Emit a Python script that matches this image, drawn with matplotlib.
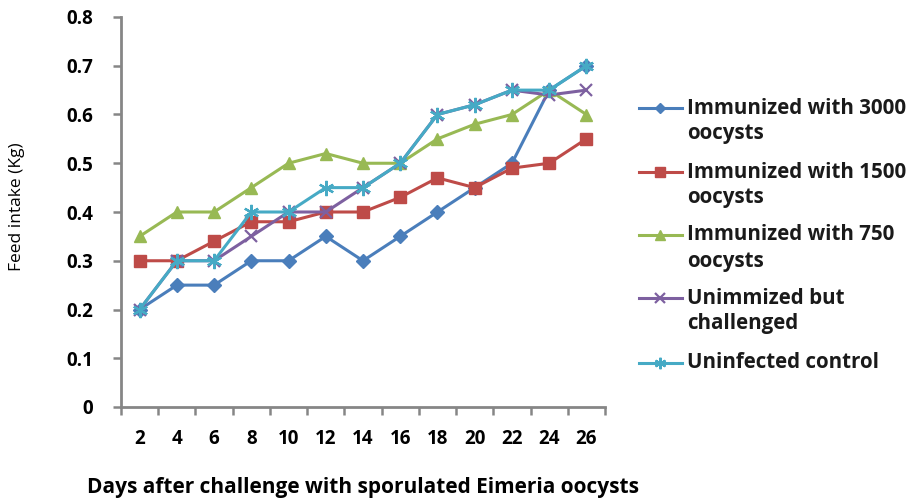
import matplotlib
matplotlib.use("Agg")
import matplotlib.pyplot as plt
import numpy as np

days = ["2", "4", "6", "8", "10", "12", "14", "16", "18", "20", "22", "24", "26"]
imm_3000 = [0.20, 0.25, 0.25, 0.30, 0.30, 0.35, 0.30, 0.35, 0.40, 0.45, 0.50, 0.65, 0.70]
imm_1500 = [0.30, 0.30, 0.34, 0.38, 0.38, 0.40, 0.40, 0.43, 0.47, 0.45, 0.49, 0.50, 0.55]
imm_750 = [0.35, 0.40, 0.40, 0.45, 0.50, 0.52, 0.50, 0.50, 0.55, 0.58, 0.60, 0.65, 0.60]
unimm = [0.20, 0.30, 0.30, 0.35, 0.40, 0.40, 0.45, 0.50, 0.60, 0.62, 0.65, 0.64, 0.65]
uninf = [0.20, 0.30, 0.30, 0.40, 0.40, 0.45, 0.45, 0.50, 0.60, 0.62, 0.65, 0.65, 0.70]
labels = [["Immunized with 3000", "oocysts"], ["Immunized with 1500", "oocysts"],
          ["Immunized with 750", "oocysts"], ["Unimmized but", "challenged"],
          ["Uninfected control"]]
yticks = ["0", "0.1", "0.2", "0.3", "0.4", "0.5", "0.6", "0.7", "0.8"]

plt.rcParams['font.family'] = ['Open Sans', 'DejaVu Sans']
W, H = 919, 501

fig = plt.figure(figsize=(9.19, 5.01), dpi=100)
ax = fig.add_axes([121/W, 1-407/H, (605-121)/W, (407-17)/H])

x = np.arange(len(days))
styles = [
    ('#4A7EBB', 'D', 7, 1.0),
    ('#BE4B48', 's', 9, 1.0),
    ('#98B954', '^', 9, 1.0),
    ('#7D60A0', 'x', 9, 1.6),
    ('#46AAC5', (6, 2, 0), 11, 1.6),
]
all_series = [imm_3000, imm_1500, imm_750, unimm, uninf]
for vals, (c, m, ms, mew) in zip(all_series, styles):
    ax.plot(x, vals, color=c, marker=m, markersize=ms, linewidth=2.2,
            markerfacecolor=c, markeredgecolor=c, markeredgewidth=mew)

ax.set_xlim(-0.5, len(days) - 0.5)
ax.set_ylim(0, 0.8)
ax.set_yticks(np.arange(0, 0.81, 0.1))
ax.set_yticklabels(yticks, fontweight='bold', fontsize=13.5)
ax.set_xticks(x)
ax.set_xticklabels(days, fontweight='bold', fontsize=13.5)
ax.set_xticks(np.arange(-0.5, len(days), 1), minor=True)
ax.tick_params(axis='x', which='major', length=0, pad=16)
ax.tick_params(axis='x', which='minor', length=6, width=1.8, color='#868686', direction='out')
ax.tick_params(axis='y', length=6, width=1.8, color='#868686', direction='out', pad=14)

for s in ['top', 'right']:
    ax.spines[s].set_visible(False)
for s in ['left', 'bottom']:
    ax.spines[s].set_color('#868686')
    ax.spines[s].set_linewidth(2.0)

fig.text(17/W, 1-207/H, "Feed intake (Kg)", rotation=90, ha='center', va='center',
         fontsize=12.5)
fig.text(363/W, 1-487/H, "Days after challenge with sporulated Eimeria oocysts",
         ha='center', va='center', fontsize=15, fontweight='bold')

# legend drawn in pixel coordinates
lax = fig.add_axes([0, 0, 1, 1])
lax.set_xlim(0, W)
lax.set_ylim(H, 0)
lax.axis('off')
entry_y = [108, 172, 235, 298, 363]
line_gap = 26
for (c, m, ms, mew), lab, ly in zip(styles, labels, entry_y):
    lax.plot([639, 682], [ly, ly], color=c, linewidth=2.2)
    lax.plot([660], [ly], color=c, marker=m, markersize=ms * 0.75,
             markerfacecolor=c, markeredgecolor=c, markeredgewidth=mew, linestyle='none')
    for i, line in enumerate(lab):
        lax.text(687, ly + i * line_gap, line, ha='left', va='center',
                 fontsize=14.8, fontweight='bold', color='#1a1a1a')

fig.savefig("out.png", dpi=100)
